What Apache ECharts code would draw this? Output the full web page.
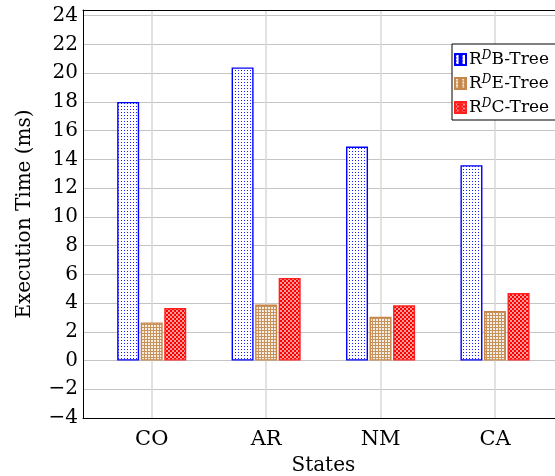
<!DOCTYPE html>
<html>
<head>
<meta charset="utf-8">
<script src="https://cdn.jsdelivr.net/npm/echarts@6/dist/echarts.min.js"></script>
<style>
  html, body { margin: 0; padding: 0; background: #fff; }
  #chart { width: 555px; height: 476px; }
</style>
</head>
<body>
<div id="chart"></div>
<script>
var states = ['CO', 'AR', 'NM', 'CA'];
var seriesNames = ['B-Tree', 'E-Tree', 'C-Tree'];
var bTree = [18.0, 20.4, 14.9, 13.6];
var eTree = [2.65, 3.9, 3.05, 3.45];
var cTree = [3.65, 5.75, 3.85, 4.7];
var yMin = -4, yMax = 24.4, yStep = 2;

var FONT = 'DejaVu Serif';

// small canvas tiles used as fill patterns
function makePattern(size, draw) {
	var c = document.createElement('canvas');
	c.width = size;
	c.height = size;
	draw(c.getContext('2d'));
	return { image: c, repeat: 'repeat' };
}

var dotsBlue = makePattern(3, function (ctx) {
	ctx.fillStyle = '#ffffff';
	ctx.fillRect(0, 0, 3, 3);
	ctx.fillStyle = '#1a1aff';
	ctx.fillRect(1, 1, 1, 1);
});
var gridBrown = makePattern(3, function (ctx) {
	ctx.fillStyle = '#f6ede4';
	ctx.fillRect(0, 0, 3, 3);
	ctx.fillStyle = '#c8935a';
	ctx.fillRect(0, 0, 3, 1);
	ctx.fillRect(0, 0, 1, 3);
});
var checkRed = makePattern(4, function (ctx) {
	ctx.fillStyle = '#ff9a9a';
	ctx.fillRect(0, 0, 4, 4);
	ctx.fillStyle = '#ff0000';
	ctx.fillRect(0, 0, 2, 2);
	ctx.fillRect(2, 2, 2, 2);
});

var fills = [dotsBlue, gridBrown, checkRed];
var borders = ['#0000ff', '#c8874a', '#ff2020'];
var values = [bTree, eTree, cTree];

var chart = echarts.init(document.getElementById('chart'));

var series = [];
for (var i = 0; i < seriesNames.length; i++) {
	series.push({
		name: seriesNames[i],
		type: 'bar',
		xAxisIndex: 1,
		yAxisIndex: 1,
		barWidth: 22,
		barGap: '7%',
		itemStyle: {
			color: fills[i],
			borderColor: borders[i],
			borderWidth: 1.4
		},
		data: values[i]
	});
}

var frameLine = { show: true, onZero: false, lineStyle: { color: '#000', width: 1 } };

var option = {
	animation: false,
	textStyle: { fontFamily: FONT },
	grid: [
		// frame runs past the right edge of the picture, like the original
		{ left: 83, width: 481, top: 10, bottom: 58, outerBoundsMode: 'none' },
		{ left: 151.7, width: 343.3, top: 10, bottom: 58, outerBoundsMode: 'none' }
	],
	legend: {
		orient: 'vertical',
		left: 452,
		top: 44,
		itemWidth: 11,
		itemHeight: 12,
		itemGap: 6,
		padding: [6, 12, 4, 2],
		borderColor: '#000',
		borderWidth: 1,
		backgroundColor: '#fff',
		icon: 'path://M0,0H5V12H0Z M7,0H12V12H7Z',
		data: seriesNames,
		formatter: function (n) {
			return '{r|R}{sup|D}{r|' + n + '}';
		},
		textStyle: {
			fontFamily: FONT,
			fontSize: 17,
			color: '#000',
			padding: [0, 0, 0, -2],
			rich: {
				r: { fontFamily: FONT, fontSize: 17, color: '#000' },
				sup: { fontFamily: FONT, fontSize: 12, fontStyle: 'italic', color: '#000', padding: [0, 0, 7, 0] }
			}
		}
	},
	xAxis: [
		{ gridIndex: 0, type: 'value', position: 'bottom', axisLine: frameLine, axisTick: { show: false }, axisLabel: { show: false }, splitLine: { show: false } },
		{
			gridIndex: 1,
			type: 'category',
			boundaryGap: false,
			data: states,
			name: 'States',
			nameLocation: 'middle',
			nameGap: 38,
			nameTextStyle: { fontFamily: FONT, fontSize: 20, color: '#000' },
			axisLine: { show: false },
			axisTick: { show: false },
			axisLabel: { fontFamily: FONT, fontSize: 21, color: '#000', margin: 11 },
			splitLine: { show: true, lineStyle: { color: '#d8d8d8', width: 1.5 } }
		},
		{ gridIndex: 0, type: 'value', position: 'top', axisLine: frameLine, axisTick: { show: false }, axisLabel: { show: false }, splitLine: { show: false } }
	],
	yAxis: [
		{
			gridIndex: 0,
			type: 'value',
			min: yMin,
			max: yMax,
			interval: yStep,
			name: 'Execution Time (ms)',
			nameLocation: 'middle',
			nameGap: 48,
			nameTextStyle: { fontFamily: FONT, fontSize: 20, color: '#000' },
			axisLine: frameLine,
			axisTick: { show: false },
			axisLabel: {
				fontFamily: FONT,
				fontSize: 20,
				color: '#000',
				margin: 5,
				showMaxLabel: false,
				formatter: function (v) { return String(v).replace('-', '\u2212'); }
			},
			splitLine: { show: true, lineStyle: { color: '#c4c4c4', width: 1.2 } }
		},
		{
			gridIndex: 1,
			type: 'value',
			min: yMin,
			max: yMax,
			interval: yStep,
			show: false,
			splitLine: { show: false }
		}
	],
	series: series
};

chart.setOption(option);
</script>
</body>
</html>
